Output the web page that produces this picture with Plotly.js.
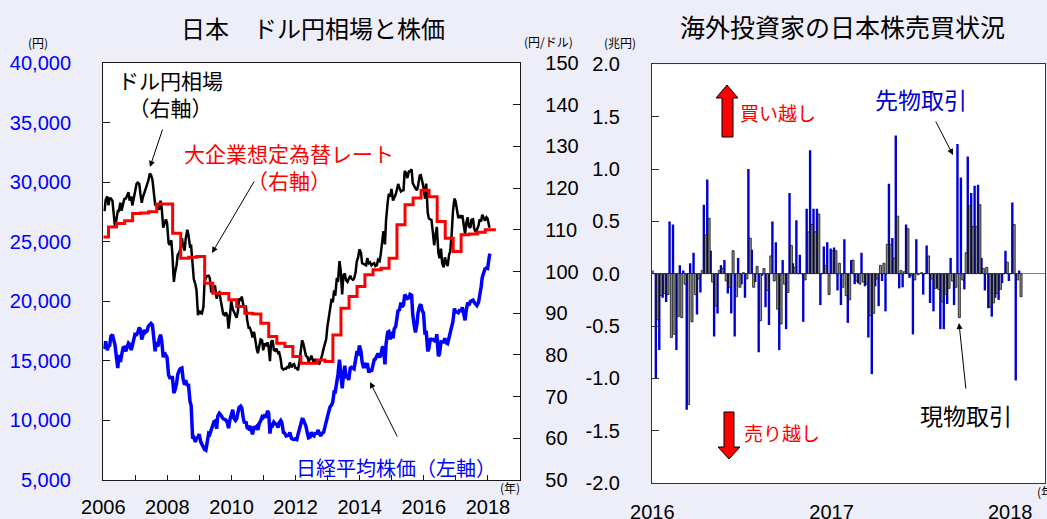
<!DOCTYPE html>
<html><head><meta charset="utf-8">
<script src="https://cdn.plot.ly/plotly-3.0.1.min.js"></script>
<style>html,body{margin:0;padding:0;background:#EEEEF8;}#chart{width:1047px;height:519px;}</style>
</head><body><div id="chart"></div>
<script>
// ---------- Left panel data (semi-monthly: mid-month, month-end) ----------
const nikkeiYears = [2006,2007,2008,2009,2010,2011,2012,2013,2014,2015,2016,2017];
const nikkei = [
16000,16650,15900,16205,16300,17060,17200,16906,16300,15467,14400,15505,14900,15457,16100,16140,15800,16127,16500,16399,15900,16274,16800,17226,
17200,17383,17800,17604,16800,17288,17600,17400,17500,17876,18000,18138,18000,17248,15800,16569,16200,16786,17200,16737,15300,15680,15500,15307,
13800,13592,13600,13603,12300,12526,13100,13850,14200,14338,14400,13481,13000,13377,12900,13073,11600,11260,8500,8577,8200,8512,8600,8860,
8200,7994,7600,7568,7500,8110,8900,8828,9300,9523,9900,9958,9300,10357,10600,10493,10200,10133,10100,10034,9800,9345,10100,10546,
10900,10198,10000,10126,10800,11090,11200,11057,10200,9768,9900,9383,9300,9537,9200,8824,9500,9369,9500,9202,9800,9937,10300,10229,
10500,10237,10800,10624,8900,9755,9600,9850,9700,9694,9400,9816,10000,9833,9000,8955,8700,8700,8750,8988,8500,8434,8400,8455,
8400,8802,9300,9723,10100,10083,9700,9520,8900,8543,8600,9007,8750,8695,9000,8840,9200,8870,8700,8928,9000,9446,9700,10395,
10800,11138,11300,11559,12400,12398,13200,13861,15100,13774,12700,13677,14600,13668,13700,13389,14400,14456,14400,14328,15100,15662,15600,16291,
15800,14915,14400,14841,14400,14828,14000,14304,14100,14632,15100,15162,15400,15621,15300,15425,16100,16174,14700,16414,17400,17460,16800,17451,
16900,17674,17900,18798,19300,19207,19900,19520,19700,20563,20400,20236,20300,20585,20500,18890,17900,17388,18100,19083,19600,19747,19200,19034,
17200,17518,15800,16027,16900,16759,16800,16666,16600,17235,15400,15576,16600,16569,16600,16887,16500,16450,16900,17425,17900,18308,19400,19114,
19100,19041,19300,19119,19500,18909,18400,19197,19900,19651,20000,20033,20100,19925,19700,19646,19900,20356,21200,22012,22400,22725,22800,22765,
23700,24000];
const usdjpy = [
114.5,117.2,118.0,115.9,117.5,117.5,117.0,113.8,110.5,112.2,114.5,114.5,116.5,114.6,116.0,117.4,117.5,118.0,119.0,117.0,118.0,115.8,118.0,119.0,
121.0,121.3,121.0,118.6,116.5,117.8,119.0,119.5,120.5,121.7,123.5,123.2,122.0,118.7,116.0,115.8,115.0,114.8,117.0,115.4,110.5,111.2,112.5,111.7,
106.8,106.4,107.5,103.8,97.5,99.7,101.5,104.0,104.5,105.5,108.0,106.2,105.0,107.9,110.0,108.8,106.0,106.1,101.0,98.2,97.0,95.5,89.5,90.6,
90.0,89.9,91.5,97.6,98.5,98.9,99.0,98.5,95.0,95.4,96.5,96.4,93.5,94.7,95.0,93.1,91.0,89.8,89.5,90.2,89.5,86.3,89.5,93.0,
91.0,90.3,89.5,88.9,90.5,93.5,93.0,94.0,92.0,91.3,91.5,88.4,86.5,86.5,85.5,84.2,85.5,83.5,81.5,80.4,82.5,83.7,83.5,81.1,
82.8,82.1,83.0,81.8,78.5,83.1,83.5,81.2,81.0,81.5,80.5,80.6,79.0,76.9,76.5,76.7,76.7,77.1,77.0,78.2,77.0,77.6,77.8,76.9,
76.8,76.3,78.5,81.2,83.5,82.8,80.8,79.8,79.5,78.4,79.0,79.8,78.8,78.1,79.0,78.4,78.0,77.9,78.8,79.8,81.5,82.5,83.8,86.7,
89.0,91.7,93.5,92.6,95.5,94.2,98.5,97.5,102.5,100.5,94.5,99.1,99.5,97.9,97.5,98.2,99.0,98.3,98.0,98.3,99.8,102.4,103.5,105.3,
104.5,102.0,101.8,101.8,101.5,103.2,102.0,102.2,101.5,101.8,102.0,101.3,101.5,102.8,102.5,104.1,107.5,109.7,106.5,112.3,116.5,118.6,118.0,119.8,
117.0,117.5,118.5,119.6,121.0,120.1,119.2,119.4,119.5,124.1,123.5,122.4,124.0,124.0,124.5,121.2,120.2,119.9,119.5,120.6,123.0,123.1,121.5,120.2,
117.5,121.1,114.0,112.7,112.5,112.4,109.0,106.3,109.0,110.7,104.5,103.2,105.5,102.0,101.0,103.4,102.0,101.3,104.0,104.8,109.5,114.4,117.5,116.8,
114.5,112.8,113.5,112.8,113.5,111.4,109.0,111.5,113.0,110.8,110.5,112.4,112.5,110.3,109.5,110.0,111.0,112.5,112.0,113.6,112.5,112.2,113.0,112.7,
110.8,110.5];
const lastDates = ['2018-01-15','2018-01-23'];
// Assumed exchange rate of large manufacturers (step series)
const tankanDates = ['2006-01-01','2006-03-01','2006-06-01','2006-09-01','2006-12-01','2007-03-01','2007-06-01','2007-09-01','2007-12-01',
'2008-03-01','2008-06-01','2008-09-01','2008-12-01','2009-03-01','2009-06-01','2009-09-01','2009-12-01','2010-03-01','2010-06-01','2010-09-01','2010-12-01',
'2011-03-01','2011-06-01','2011-09-01','2011-12-01','2012-03-01','2012-06-01','2012-09-01','2012-12-01','2013-03-01','2013-06-01','2013-09-01','2013-12-01',
'2014-03-01','2014-06-01','2014-09-01','2014-12-01','2015-03-01','2015-06-01','2015-09-01','2015-12-01','2016-03-01','2016-06-01','2016-09-01','2016-12-01',
'2017-03-01','2017-06-01','2017-09-01','2017-12-01','2018-04-01'];
const tankanRate = [108.3,110.7,111.5,112.2,113.9,114.0,114.3,116.2,116.2,
109.2,103.2,103.4,103.6,97.2,94.8,94.7,93.2,91.6,90.0,89.8,87.6,
84.4,82.8,82.0,79.6,78.0,78.0,78.8,78.4,84.8,91.2,94.0,96.4,
99.2,100.4,100.8,103.2,111.2,116.0,117.6,119.5,117.9,112.0,108.0,104.8,
108.8,109.0,109.4,110.0,110.0];

// ---------- Right panel data (weekly, trillion yen) ----------
const weekStart = '2016-01-03';
const futures = [0.03,-1.0,-0.73,-0.23,-0.27,0.5,0.47,-0.73,0.08,0.03,-1.3,0.1,0.2,-0.39,-0.18,0.66,0.9,0.22,-0.6,-0.38,
0.08,0.13,-0.19,-0.38,-0.6,0.15,-0.1,-0.23,1.0,0.23,-0.08,-0.75,-0.02,-0.32,-0.49,0.5,0.3,-0.73,0.13,-0.53,
0.77,0.1,0.51,0.18,-0.46,0.62,1.18,0.62,0.62,-0.3,0.26,0.3,
0.24,0.25,-0.16,-0.3,0.33,-0.47,0.13,-0.1,-0.09,0.2,-0.12,-0.61,-0.96,-0.12,-0.31,-0.07,-0.36,0.86,0.34,1.32,
-0.14,-0.13,0.47,-0.04,-0.58,0.33,0.0,-0.2,0.27,-0.28,-0.36,-0.14,-0.53,-0.53,-0.29,0.15,-0.3,1.24,0.92,-0.15,
1.12,0.77,0.84,0.85,0.15,-0.16,-0.33,-0.41,-0.23,-0.25,-0.09,0.22,-0.07,0.68,-1.02,0.03];
const cash = [0.0,-0.44,-0.21,-0.19,-0.2,-0.61,-0.58,-0.41,-0.42,-0.1,-1.25,-0.46,-0.2,-0.05,0.03,0.37,0.53,-0.08,-0.31,0.03,
0.05,-0.07,-0.13,0.22,-0.22,-0.13,0.01,-0.05,0.34,-0.13,0.07,-0.45,0.05,-0.16,0.17,-0.07,-0.34,-0.48,-0.1,-0.18,
0.27,0.06,0.0,0.0,-0.06,0.4,0.47,0.4,0.57,0.0,0.08,-0.2,
0.22,0.22,0.1,-0.13,-0.21,-0.25,0.13,-0.07,-0.1,-0.08,-0.1,-0.4,-0.38,-0.05,0.08,0.1,0.28,0.28,0.15,0.55,
0.03,0.02,0.43,-0.02,-0.06,-0.01,0.01,0.0,0.17,-0.05,-0.14,-0.15,-0.27,-0.2,-0.14,-0.07,-0.13,-0.42,-0.06,0.2,
0.65,0.45,0.45,0.66,0.05,0.06,-0.32,-0.28,-0.19,-0.15,0.0,0.11,0.0,0.47,-0.06,-0.22];
const flowTickVals = [-2,-1.5,-1,-0.5,0,0.5,1,1.5,2];
const flowTickText = ['-2.0','-1.5','-1.0','-0.5','0.0','0.5','1.0','1.5','2.0'];

// ---------- build date categories ----------
const halfMonthDates = [];
nikkeiYears.forEach(y => { for (let m = 1; m <= 12; m++) { const mm = String(m).padStart(2,'0'); halfMonthDates.push(`${y}-${mm}-15`, `${y}-${mm}-28`); } });
lastDates.forEach(d => halfMonthDates.push(d));
const WEEK = 7*24*3600*1000;
const weekDates = futures.map((_, i) => new Date(Date.parse(weekStart + 'T00:00:00Z') + i*WEEK).toISOString().slice(0,10));

// ---------- geometry helpers ----------
const W = 1047, H = 519;
const px = x => x / W, py = y => 1 - y / H;
const path = pts => 'M' + pts.map(p => px(p[0]).toFixed(5) + ',' + py(p[1]).toFixed(5)).join(' L') + ' Z';

const JP = '"Noto Sans CJK JP", sans-serif';
const NUM = '"Liberation Sans", Arial, sans-serif';

const traces = [
  {x: halfMonthDates, y: nikkei, type: 'scatter', mode: 'lines', xaxis: 'x', yaxis: 'y',
   line: {color: '#0000FF', width: 3.5}},
  {x: halfMonthDates, y: usdjpy, type: 'scatter', mode: 'lines', xaxis: 'x', yaxis: 'y2',
   line: {color: '#000000', width: 2.5}},
  {x: tankanDates, y: tankanRate, type: 'scatter', mode: 'lines', xaxis: 'x', yaxis: 'y2',
   line: {color: '#FF0000', width: 3, shape: 'hv'}},
  {x: weekDates, y: futures, type: 'bar', xaxis: 'x2', yaxis: 'y3',
   width: 0.7*WEEK, offset: -0.6*WEEK, marker: {color: '#0000D0', line: {width: 0}}},
  {x: weekDates, y: cash, type: 'bar', xaxis: 'x2', yaxis: 'y3',
   width: 0.62*WEEK, offset: -0.02*WEEK, marker: {color: '#8c8c8c', line: {color: '#000000', width: 0.7}}}
];

const axisLine = {showline: true, linecolor: '#1a1a1a', linewidth: 1.3, showgrid: false, zeroline: false};
const layout = {
  width: W, height: H, margin: {l: 0, r: 0, t: 0, b: 0},
  paper_bgcolor: '#EEEEF8', plot_bgcolor: '#FFFFFF', showlegend: false, hovermode: false,
  barmode: 'overlay',
  xaxis: Object.assign({}, axisLine, {domain: [px(103.3), px(520)], anchor: 'y', type: 'date', mirror: true,
    range: ['2006-01-01', '2019-01-01'], tick0: '2006-01-01', dtick: 'M24', tickformat: '%Y',
    ticks: 'inside', ticklen: 5, tickcolor: '#1a1a1a', ticklabelstandoff: 9,
    minor: {dtick: 'M12', tick0: '2006-01-01', ticks: 'inside', ticklen: 5, tickcolor: '#1a1a1a'},
    tickfont: {family: NUM, size: 20, color: '#000000'}}),
  yaxis: Object.assign({}, axisLine, {domain: [py(480), py(63)], anchor: 'x', mirror: true,
    range: [5000, 40000], dtick: 5000, tickformat: ',d', ticks: 'inside', ticklen: 7, tickcolor: '#1a1a1a',
    ticklabelstandoff: 27, tickfont: {family: NUM, size: 20, color: '#0000FF'}}),
  yaxis2: Object.assign({}, axisLine, {overlaying: 'y', side: 'right', anchor: 'x',
    range: [50, 150], dtick: 10, ticks: 'inside', ticklen: 7, tickcolor: '#1a1a1a',
    ticklabelstandoff: 20, tickfont: {family: NUM, size: 20, color: '#000000'}}),
  xaxis2: Object.assign({}, axisLine, {domain: [px(652.3), px(1045)], anchor: 'y3', type: 'date', mirror: true,
    linecolor: '#333333', range: ['2016-01-01', '2018-03-13'], tick0: '2016-01-01', dtick: 'M12', tickformat: '%Y',
    ticks: '', ticklabelstandoff: 11, tickfont: {family: NUM, size: 20, color: '#000000'}}),
  yaxis3: Object.assign({}, axisLine, {domain: [py(483), py(64.4)], anchor: 'x2', mirror: true, linecolor: '#333333',
    range: [-2, 2], tickmode: 'array', tickvals: flowTickVals, ticktext: flowTickText,
    ticks: 'inside', ticklen: 7, tickcolor: '#333333',
    zeroline: true, zerolinecolor: '#808080', zerolinewidth: 1.5,
    ticklabelstandoff: 27, tickfont: {family: NUM, size: 20, color: '#000000'}}),
  shapes: [
    {type: 'path', xref: 'paper', yref: 'paper', fillcolor: '#FF0000', line: {color: '#000000', width: 1},
     path: path([[722,137],[733,137],[733,98],[738,98],[727,85],[716,98],[722,98]])},
    {type: 'path', xref: 'paper', yref: 'paper', fillcolor: '#FF0000', line: {color: '#000000', width: 1},
     path: path([[724,412],[734,412],[734,447],[740,447],[729,459],[718,447],[724,447]])}
  ],
  annotations: []
};

function txt(t, x, y, size, color, xanchor) {
  layout.annotations.push({text: t, x: px(x), y: py(y), xref: 'paper', yref: 'paper', showarrow: false,
    xanchor: xanchor || 'center', yanchor: 'middle', font: {family: JP, size: size, color: color}});
}
function arrow(x0, y0, x1, y1) {
  layout.annotations.push({text: '', x: px(x1), y: py(y1), xref: 'paper', yref: 'paper', showarrow: true,
    ax: x0 - x1, ay: y0 - y1, arrowhead: 2, arrowsize: 1.2, arrowwidth: 1, arrowcolor: '#000000', standoff: 0, startstandoff: 0});
}

txt('日本　ドル円相場と株価', 313, 27, 24, '#000000');
txt('海外投資家の日本株売買状況', 843, 26, 25, '#000000');
txt('(円)', 38, 43, 12, '#000000');
txt('(円/ドル)', 548, 42, 12, '#000000');
txt('(兆円)', 620, 43, 12, '#000000');
txt('(年)', 510, 487, 12, '#000000');
txt('(年)', 1035, 491, 12, '#000000', 'left');
txt('ドル円相場<br>（右軸）', 170, 94, 21, '#000000');
txt('大企業想定為替レート<br>（右軸）', 289, 166, 21, '#FF0000');
txt('日経平均株価（左軸）', 396, 467, 20, '#0000FF');
txt('先物取引', 921, 99, 23, '#0000CC');
txt('現物取引', 966, 415, 23, '#000000');
txt('買い越し', 778, 113, 19, '#FF0000');
txt('売り越し', 782, 432, 19, '#FF0000');
arrow(163, 128, 150, 167);
arrow(255, 180, 212, 253);
arrow(398, 438, 370, 382);
arrow(935, 120, 953, 155);
arrow(966, 390, 959, 323);

Plotly.newPlot('chart', traces, layout, {staticPlot: true, displayModeBar: false});
</script>
</body></html>
